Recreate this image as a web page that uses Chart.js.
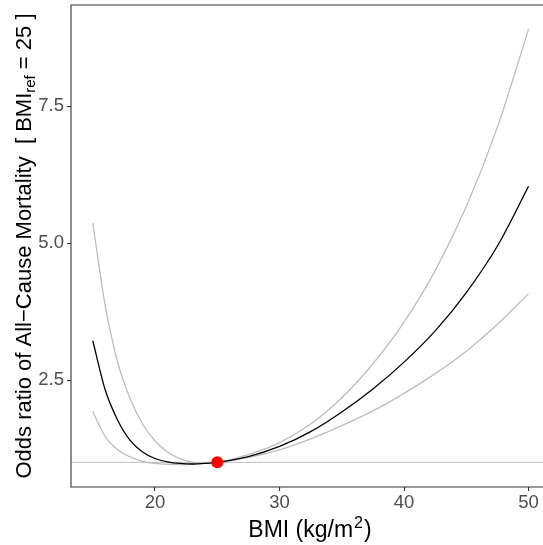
<!DOCTYPE html>
<html>
<head>
<meta charset="utf-8">
<script src="https://cdn.jsdelivr.net/npm/chart.js@4.4.0/dist/chart.umd.min.js"></script>
<style>
  html, body { margin: 0; padding: 0; background: #fff; overflow: hidden; }
</style>
</head>
<body>
<canvas id="myChart" width="543" height="545"></canvas>
<script>
// BMI grid and odds ratios
var bmi     = [15, 16, 17, 18, 19, 20, 21, 22, 23, 24, 25, 27.5, 30, 32.5, 35, 37.5, 40, 42.5, 45, 47.5, 50];
var orEst   = [3.22, 2.32, 1.77, 1.40, 1.19, 1.07, 1.01, 0.98, 0.97, 0.98, 1.00, 1.105, 1.29, 1.56, 1.92, 2.34, 2.83, 3.40, 4.10, 4.95, 6.04];
var orUpper = [5.37, 3.86, 2.83, 2.16, 1.70, 1.39, 1.19, 1.067, 1.00, 0.98, 1.00, 1.14, 1.36, 1.70, 2.18, 2.80, 3.56, 4.50, 5.67, 7.12, 8.91];
var orLower = [1.93, 1.47, 1.23, 1.10, 1.02, 0.98, 0.965, 0.96, 0.965, 0.98, 1.00, 1.09, 1.23, 1.43, 1.67, 1.94, 2.26, 2.62, 3.03, 3.52, 4.08];
var bmiRef = 25;
var orRef = 1;
var xTicks = [20, 30, 40, 50];
var yTicks = [2.5, 5.0, 7.5];
var xLimits = [13.25, 51.16];   // panel is cut off at the right edge
var yLimits = [0.55, 9.35];

function pts(ys) {
  return bmi.map(function(b, i) { return {x: b, y: ys[i]}; });
}

var fontFam = '"Liberation Sans", Arial, Helvetica, sans-serif';

// reference line, panel border and the two axis titles with sub/superscripts
var extras = {
  id: 'extras',
  beforeDatasetsDraw: function(chart) {
    var ctx = chart.ctx, a = chart.chartArea;
    var y = chart.scales.y.getPixelForValue(orRef);
    ctx.save();
    ctx.strokeStyle = '#bdbdbd';
    ctx.lineWidth = 1;
    ctx.beginPath();
    ctx.moveTo(a.left, y);
    ctx.lineTo(a.right, y);
    ctx.stroke();
    ctx.restore();
  },
  afterDraw: function(chart) {
    var ctx = chart.ctx, a = chart.chartArea;
    ctx.save();
    ctx.strokeStyle = '#333333';
    ctx.lineWidth = 1.1;
    ctx.beginPath();
    ctx.moveTo(a.right + 2, a.top);
    ctx.lineTo(a.left, a.top);
    ctx.lineTo(a.left, a.bottom);
    ctx.lineTo(a.right + 2, a.bottom);
    ctx.stroke();

    ctx.fillStyle = '#000';
    ctx.textBaseline = 'alphabetic';
    ctx.textAlign = 'left';
    var big = '23px ' + fontFam, small = '16px ' + fontFam;

    // x title: BMI (kg/m^2), centred on the full panel (which runs past the edge)
    var p1 = 'BMI (kg/m', p2 = '2', p3 = ')';
    ctx.font = big; var w1 = ctx.measureText(p1).width, w3 = ctx.measureText(p3).width;
    ctx.font = small; var w2 = ctx.measureText(p2).width;
    var cx = 309 - (w1 + w2 + w3) / 2;
    var by = 537;
    ctx.font = big; ctx.fillText(p1, cx, by);
    ctx.font = small; ctx.fillText(p2, cx + w1 + 1, by - 9);
    ctx.font = big; ctx.fillText(p3, cx + w1 + w2 + 2, by);

    // y title, rotated
    var bigY = '22px ' + fontFam, smallY = '15px ' + fontFam;
    var q1 = 'Odds ratio of All\u2212Cause Mortality  [ BMI', q2 = 'ref', q3 = ' = 25 ]';
    ctx.font = bigY; var v1 = ctx.measureText(q1).width, v3 = ctx.measureText(q3).width;
    ctx.font = smallY; var v2 = ctx.measureText(q2).width;
    var total = v1 + v2 + v3;
    ctx.translate(31, (a.top + a.bottom) / 2);
    ctx.rotate(-Math.PI / 2);
    var sx = -total / 2;
    ctx.font = bigY; ctx.fillText(q1, sx, 0);
    ctx.font = smallY; ctx.fillText(q2, sx + v1, 4);
    ctx.font = bigY; ctx.fillText(q3, sx + v1 + v2, 0);
    ctx.restore();
  }
};

var ctx = document.getElementById('myChart');
var grath = new Chart(ctx, {
  type: 'line',
  data: {
    datasets: [
      {
        label: 'upper',
        data: pts(orUpper),
        borderColor: '#bdbdbd',
        borderWidth: 1.3,
        pointRadius: 0,
        cubicInterpolationMode: 'monotone',
        order: 3
      },
      {
        label: 'lower',
        data: pts(orLower),
        borderColor: '#bdbdbd',
        borderWidth: 1.3,
        pointRadius: 0,
        cubicInterpolationMode: 'monotone',
        order: 3
      },
      {
        label: 'estimate',
        data: pts(orEst),
        borderColor: '#000000',
        borderWidth: 1.3,
        pointRadius: 0,
        cubicInterpolationMode: 'monotone',
        order: 2
      },
      {
        label: 'reference',
        data: [{x: bmiRef, y: orRef}],
        showLine: false,
        pointRadius: 6,
        pointBackgroundColor: '#ff0000',
        pointBorderColor: '#ff0000',
        pointBorderWidth: 0,
        order: 1
      }
    ]
  },
  options: {
    responsive: false,
    animation: false,
    events: [],
    layout: { autoPadding: false, padding: { top: 5, right: 0, left: 0, bottom: 0 } },
    plugins: {
      legend: { display: false },
      tooltip: { enabled: false }
    },
    scales: {
      x: {
        type: 'linear',
        min: xLimits[0],
        max: xLimits[1],
        afterBuildTicks: function(scale) {
          scale.ticks = xTicks.map(function(v) { return {value: v}; });
        },
        afterFit: function(scale) {
          scale.height = 58;
          scale.paddingLeft = 0;
          scale.paddingRight = 0;
        },
        ticks: {
          autoSkip: false,
          maxRotation: 0,
          padding: 1,
          color: '#4d4d4d',
          font: { size: 18.5, family: fontFam },
          callback: function(v) { return String(v); }
        },
        grid: {
          drawOnChartArea: false,
          drawTicks: true,
          tickLength: 4,
          color: '#333333',
          lineWidth: 1.1
        },
        border: { display: false }
      },
      y: {
        type: 'linear',
        min: yLimits[0],
        max: yLimits[1],
        afterBuildTicks: function(scale) {
          scale.ticks = yTicks.map(function(v) { return {value: v}; });
        },
        afterFit: function(scale) {
          scale.width = 71;
          scale.paddingTop = 0;
          scale.paddingBottom = 0;
        },
        ticks: {
          autoSkip: false,
          padding: 3,
          color: '#4d4d4d',
          font: { size: 18.5, family: fontFam },
          callback: function(v) { return Number(v).toFixed(1); }
        },
        grid: {
          drawOnChartArea: false,
          drawTicks: true,
          tickLength: 4,
          color: '#333333',
          lineWidth: 1.1
        },
        border: { display: false }
      }
    }
  },
  plugins: [extras]
});
</script>
</body>
</html>
